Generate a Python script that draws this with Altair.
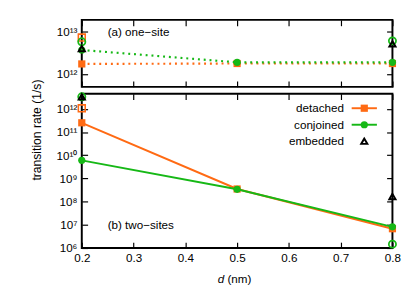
import altair as alt
import pandas as pd

# ---------------- data ----------------
d_values = [0.2, 0.5, 0.8]

# (a) one-site
one_detached = [1.73e12, 1.77e12, 1.77e12]
one_conjoined = [3.7e12, 1.89e12, 1.89e12]
one_detached_open_d = [0.2]
one_detached_open = [7.3e12]
one_conjoined_open_d = [0.2, 0.8]
one_conjoined_open = [5.8e12, 6.1e12]
one_embedded_d = [0.2, 0.8]
one_embedded = [4.0e12, 5.2e12]

# (b) two-sites
two_detached = [2.5e11, 3.5e8, 6.8e6]
two_conjoined = [6.0e9, 3.4e8, 8.2e6]
two_detached_open_d = [0.2]
two_detached_open = [1.05e12]
two_conjoined_open_d = [0.2, 0.8]
two_conjoined_open = [3.3e12, 1.47e6]
two_embedded_d = [0.2, 0.8]
two_embedded = [3.3e12, 1.66e8]

x_ticks = [0.2, 0.3, 0.4, 0.5, 0.6, 0.7, 0.8]
top_y_ticks = [1e12, 1e13]
bottom_y_ticks = [1e6, 1e7, 1e8, 1e9, 1e10, 1e11, 1e12]
top_domain = [4.94e11, 1.92e13]
bottom_domain = [1e6, 4.5e12]

ORANGE = "#ff6a13"
GREEN = "#16b816"
FONT = "Liberation Sans"
W = 320
H_TOP = 69
H_BOT = 159

sup = {6: "⁶", 7: "⁷", 8: "⁸", 9: "⁹", 10: "¹⁰", 11: "¹¹", 12: "¹²", 13: "¹³"}
label_expr = " : ".join(
    f"round(log(datum.value)/LN10) == {k} ? '10{v}'" for k, v in sup.items()
) + " : ''"


def df(d, v):
    return pd.DataFrame({"d": d, "rate": v})


def x_enc(labels, orient="bottom"):
    return alt.X(
        "d:Q",
        scale=alt.Scale(domain=[0.2, 0.8], nice=False, zero=False),
        axis=alt.Axis(
            orient=orient, values=x_ticks, format=".1f", labels=labels,
            offset=-6, tickSize=6, domain=False, grid=False, title=None,
            labelFontSize=12, labelFont=FONT, labelColor="black",
            tickColor="black", tickWidth=1.2, labelPadding=5,
            labelFlush=False,
        ),
    )


def y_enc(domain, ticks, labels=True, orient="left", title=None):
    axis_kw = dict(
        orient=orient, values=ticks, labelExpr=label_expr, labels=labels,
        offset=-6, tickSize=6, domain=False, grid=False,
        labelFontSize=12, labelFont=FONT, labelColor="black",
        tickColor="black", tickWidth=1.2, labelPadding=5,
    )
    if title is not None:
        axis_kw.update(title=title, titleX=-46, titleY=37, titleAngle=270,
                       titleAlign="center", titleBaseline="bottom",
                       titleFontSize=12.5, titleFont=FONT,
                       titleFontWeight="normal", titleColor="black")
    else:
        axis_kw.update(title=None)
    return alt.Y(
        "rate:Q",
        scale=alt.Scale(type="log", domain=domain, nice=False),
        axis=alt.Axis(**axis_kw),
    )


panel_labels = pd.DataFrame({"d": [0.25, 0.25], "rate": [1e13, 1e7],
                             "label": ["(a) one−site", "(b) two−sites"]})


def panel(det, conj, det_open, conj_open, emb, domain, ticks, height,
          dotted, x_labels, label_idx, y_title=None, extra=None):
    xe = x_enc(x_labels)
    ye = y_enc(domain, ticks, title=y_title)
    line_kw = dict(strokeWidth=2)
    if dotted:
        line_kw.update(strokeDash=[2, 4], strokeWidth=2.2)
    layers = [
        alt.Chart(det).mark_line(color=ORANGE, **line_kw).encode(x=xe, y=ye),
        alt.Chart(det).mark_point(shape="square", filled=True, size=55,
                                  color=ORANGE, opacity=1).encode(x=xe, y=ye),
        alt.Chart(conj).mark_line(color=GREEN, **line_kw).encode(x=xe, y=ye),
        alt.Chart(conj).mark_circle(size=55, color=GREEN, opacity=1).encode(x=xe, y=ye),
        alt.Chart(det_open).mark_point(shape="square", filled=False, size=50,
                                       color=ORANGE, strokeWidth=1.6,
                                       opacity=1).encode(x=xe, y=ye),
        alt.Chart(conj_open).mark_point(shape="circle", filled=False, size=55,
                                        color=GREEN, strokeWidth=1.8,
                                        opacity=1).encode(x=xe, y=ye),
        alt.Chart(emb).mark_point(shape="triangle-up", filled=False, size=40,
                                  color="black", strokeWidth=2,
                                  opacity=1).encode(x=xe, y=ye),
        alt.Chart(panel_labels.iloc[[label_idx]]).mark_text(
            align="left", baseline="middle", fontSize=12, font=FONT, color="black"
        ).encode(x=xe, y=ye, text="label:N"),
    ]
    if extra:
        layers += extra
    inner = alt.layer(*layers).properties(width=W, height=height)
    mirror = alt.Chart(det).mark_point(opacity=0).encode(
        x=x_enc(False, orient="top"),
        y=y_enc(domain, ticks, labels=False, orient="right"),
    )
    return alt.layer(inner, mirror).resolve_scale(x="independent", y="independent")


# manual gnuplot-style legend (labels left of samples)
legend_names = ["detached", "conjoined", "embedded"]
legend_colors = [ORANGE, GREEN, "black"]
legend_rows = [15, 32, 49]
legend_layers = []
for name, col, yy in zip(legend_names, legend_colors, legend_rows):
    src = alt.Data(values=[{"label": name}])
    legend_layers.append(
        alt.Chart(src).mark_text(align="right", baseline="middle", fontSize=12,
                                 font=FONT, color="black")
        .encode(x=alt.value(270), y=alt.value(yy), text="label:N"))
    if name != "embedded":
        legend_layers.append(
            alt.Chart(src).mark_rule(color=col, strokeWidth=2)
            .encode(x=alt.value(278), x2=alt.value(304), y=alt.value(yy)))
        legend_layers.append(
            alt.Chart(src).mark_point(shape="square" if name == "detached" else "circle",
                                      filled=True, size=55, color=col, opacity=1)
            .encode(x=alt.value(291), y=alt.value(yy)))
    else:
        legend_layers.append(
            alt.Chart(src).mark_point(shape="triangle-up", filled=False, size=40,
                                      color=col, strokeWidth=2, opacity=1)
            .encode(x=alt.value(291), y=alt.value(yy)))

# x-axis title: italic d + (nm)
xtitle_src = alt.Data(values=[{"t": "d", "u": "(nm)"}])
xtitle_layers = [
    alt.Chart(xtitle_src).mark_text(align="left", baseline="middle", fontSize=12,
                                    font=FONT, fontStyle="italic", color="black")
    .encode(x=alt.value(140), y=alt.value(191), text="t:N"),
    alt.Chart(xtitle_src).mark_text(align="left", baseline="middle", fontSize=12,
                                    font=FONT, color="black")
    .encode(x=alt.value(150), y=alt.value(191), text="u:N"),
]

top = panel(
    df(d_values, one_detached), df(d_values, one_conjoined),
    df(one_detached_open_d, one_detached_open),
    df(one_conjoined_open_d, one_conjoined_open),
    df(one_embedded_d, one_embedded),
    top_domain, top_y_ticks, H_TOP, dotted=True, x_labels=False, label_idx=0,
)

bottom = panel(
    df(d_values, two_detached), df(d_values, two_conjoined),
    df(two_detached_open_d, two_detached_open),
    df(two_conjoined_open_d, two_conjoined_open),
    df(two_embedded_d, two_embedded),
    bottom_domain, bottom_y_ticks, H_BOT, dotted=False, x_labels=True,
    label_idx=1, y_title="transition rate (1/s)",
    extra=legend_layers + xtitle_layers,
)

chart = alt.vconcat(top, bottom, spacing=7, bounds="flush").properties(
    padding={"left": 22, "top": 6, "right": 5, "bottom": 0},
    background="white",
).configure_view(stroke="black", strokeWidth=2)

chart.save("out.html", embed_options={"renderer": "svg", "actions": False})
